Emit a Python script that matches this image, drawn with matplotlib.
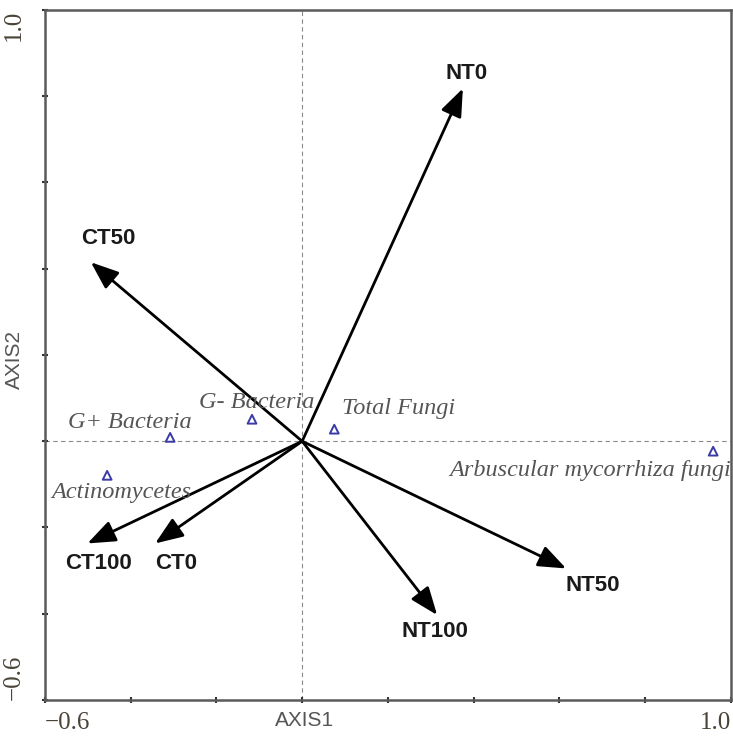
import numpy as np
import matplotlib.pyplot as plt

# RDA biplot: treatment arrows and microbial group scores
treatments = ['NT0', 'CT50', 'CT100', 'CT0', 'NT100', 'NT50']
treat_x = [0.375, -0.493, -0.501, -0.343, 0.315, 0.616]
treat_y = [0.818, 0.415, -0.237, -0.237, -0.403, -0.295]

species = ['G+ Bacteria', 'G- Bacteria', 'Total Fungi', 'Arbuscular mycorrhiza fungi', 'Actinomycetes']
sp_x = [-0.308, -0.117, 0.075, 0.959, -0.455]
sp_y = [0.009, 0.051, 0.028, -0.023, -0.079]

tick_vals = [-0.6, -0.4, -0.2, 0.0, 0.2, 0.4, 0.6, 0.8, 1.0]

fig = plt.figure(figsize=(7.33, 7.38), dpi=100)
ax = fig.add_axes([0.0614, 0.0515, 0.9355, 0.935])
ax.set_xlim(-0.6, 1.0)
ax.set_ylim(-0.6, 1.0)

ax.axhline(0, color='#8a8a8a', lw=0.8, ls=(0, (4, 3)), zorder=1)
ax.axvline(0, color='#8a8a8a', lw=0.8, ls=(0, (4, 3)), zorder=1)

# label offsets in pixels relative to arrow tips
treat_off = {'NT0': (4, 15), 'CT50': (17, 24), 'CT100': (11, -20),
             'CT0': (21, -20), 'NT100': (-2, -16), 'NT50': (27, -17)}
for name, x, y in zip(treatments, treat_x, treat_y):
    ax.annotate('', xy=(x, y), xytext=(0, 0),
                arrowprops=dict(arrowstyle='-|>,head_length=0.85,head_width=0.33',
                                mutation_scale=20, color='black', lw=2.0,
                                shrinkA=0, shrinkB=0), zorder=3)
    dx, dy = treat_off[name]
    ax.annotate(name, xy=(x, y), xytext=(dx, dy), textcoords='offset pixels',
                ha='center', va='center', fontsize=16, fontweight='bold',
                family='Liberation Sans', color='#1a1a1a')

ax.scatter(sp_x, sp_y, marker='^', s=40, facecolors='none',
           edgecolors='#3a3aa8', linewidths=1.4, zorder=4)

sp_off = {'G+ Bacteria': (-40, 15, 'center'), 'G- Bacteria': (5, 17, 'center'),
          'Total Fungi': (8, 21, 'left'), 'Arbuscular mycorrhiza fungi': (18, -19, 'right'),
          'Actinomycetes': (14, -17, 'center')}
for name, x, y in zip(species, sp_x, sp_y):
    dx, dy, ha = sp_off[name]
    ax.annotate(name, xy=(x, y), xytext=(dx, dy), textcoords='offset pixels',
                ha=ha, va='center', fontsize=17.5, style='italic',
                family='Liberation Serif', color='#555555')

for s in ax.spines.values():
    s.set_color('#5a5a5a')
    s.set_linewidth(1.8)

xlabels = ['' for v in tick_vals]
xlabels[0] = '\u22120.6'
xlabels[-1] = '1.0'
ax.set_xticks(tick_vals)
ax.set_xticklabels(xlabels, family='Liberation Serif', fontsize=18, color='#4a4438')
ax.set_yticks(tick_vals)
ax.set_yticklabels(xlabels, family='Liberation Serif', fontsize=18, color='#4a4438',
                   rotation=90)
ax.tick_params(direction='inout', length=5, width=1.5, color='#333333', pad=6)
ax.tick_params(axis='y', pad=12)
xt = ax.get_xticklabels()
xt[0].set_ha('left')
xt[-1].set_ha('right')
yt = ax.get_yticklabels()
yt[0].set_va('bottom')
yt[-1].set_va('top')
yt[0].set_ha('right')
yt[-1].set_ha('right')

ax.set_xlabel('AXIS1', family='Liberation Sans', fontsize=15, color='#555555')
ax.set_ylabel('AXIS2', family='Liberation Sans', fontsize=15, color='#555555')
ax.xaxis.label.set_va('center')
ax.yaxis.label.set_va('center')
ax.xaxis.set_label_coords(0.379, -0.029)
ax.yaxis.set_label_coords(-0.044, 0.493)

fig.savefig('out.png', dpi=100)
